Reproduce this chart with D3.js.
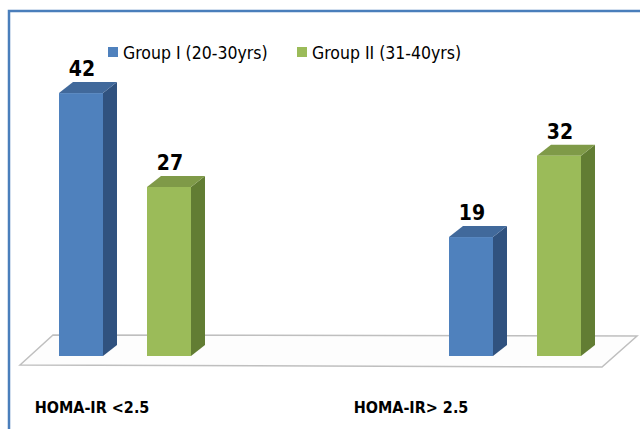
<!DOCTYPE html>
<html>
<head>
<meta charset="utf-8">
<script src="https://cdn.jsdelivr.net/npm/d3@7"></script>
<style>
  body { margin: 0; background: #fff; }
  text { font-family: "DejaVu Sans Condensed", "Liberation Sans Narrow", Arial, sans-serif; fill: #000; }
</style>
</head>
<body>
<script>
// chart data
var categories = ['HOMA-IR <2.5', 'HOMA-IR> 2.5'];
var series = ['Group I (20-30yrs)', 'Group II (31-40yrs)'];
var groupI = [42, 19];
var groupII = [27, 32];

window.onload = function () {
    var w = 640,
        h = 429;

    var colors = {
        front: ['#4f81bd', '#9bbb59'],
        side: ['#30527f', '#627d33'],
        top: ['#41699b', '#7f9a48']
    };

    var values = [groupI, groupII];
    var table = categories.map(function (c, i) {
        return { category: c, bars: series.map(function (s, j) { return { series: s, j: j, value: values[j][i] }; }) };
    });

    var svg = d3.select('body')
        .append('svg')
        .attr('width', w)
        .attr('height', h);

    // blue frame
    svg.append('path')
        .attr('d', 'M9,430 L9,11 L641,11')
        .attr('fill', 'none')
        .attr('stroke', '#4a7ebb')
        .attr('stroke-width', 2.5);

    var x0 = d3.scaleBand()
        .domain(categories)
        .range([-70, 710]);

    var x1 = d3.scaleBand()
        .domain(series)
        .range([-88, 88])
        .paddingInner(0.5)
        .paddingOuter(0.25);

    var y = d3.scaleLinear()
        .domain([0, 50])
        .range([356, 43]);

    var labelX = d3.scalePoint()
        .domain(categories)
        .range([92, 411]);

    var dx = 14, dy = 11;

    // floor
    svg.append('path')
        .attr('d', 'M20,365 L53,335 L637,336 L602,367 Z')
        .attr('fill', '#fdfdfd')
        .attr('stroke', '#bfbfbf')
        .attr('stroke-width', 1.5);

    var groups = svg.selectAll('.group')
        .data(table)
        .enter()
        .append('g')
        .attr('class', 'group')
        .attr('transform', function (d) {
            return 'translate(' + (x0(d.category) + x0.bandwidth() / 2) + ',0)';
        });

    var bars = groups.selectAll('.bar')
        .data(function (d) { return d.bars; })
        .enter()
        .append('g')
        .attr('class', 'bar');

    var bw = x1.bandwidth();

    // side face
    bars.append('path')
        .attr('d', function (d) {
            var xa = x1(d.series) + bw, t = y(d.value), b = y(0);
            return 'M' + xa + ',' + t + ' L' + (xa + dx) + ',' + (t - dy) +
                ' L' + (xa + dx) + ',' + (b - dy) + ' L' + xa + ',' + b + ' Z';
        })
        .style('fill', function (d) { return colors.side[d.j]; });

    // top face
    bars.append('path')
        .attr('d', function (d) {
            var xa = x1(d.series), t = y(d.value);
            return 'M' + xa + ',' + t + ' L' + (xa + dx) + ',' + (t - dy) +
                ' L' + (xa + bw + dx) + ',' + (t - dy) + ' L' + (xa + bw) + ',' + t + ' Z';
        })
        .style('fill', function (d) { return colors.top[d.j]; });

    // front face
    bars.append('rect')
        .attr('x', function (d) { return x1(d.series); })
        .attr('y', function (d) { return y(d.value); })
        .attr('width', bw)
        .attr('height', function (d) { return y(0) - y(d.value); })
        .style('fill', function (d) { return colors.front[d.j]; });

    // value labels
    bars.append('text')
        .attr('text-anchor', 'middle')
        .attr('x', function (d) { return x1(d.series) + bw / 2 + 1; })
        .attr('y', function (d) { return y(d.value) - 17; })
        .style('font-size', '21px')
        .style('font-weight', 'bold')
        .text(function (d) { return d.value; });

    // category labels
    svg.selectAll('.cat')
        .data(categories)
        .enter()
        .append('text')
        .attr('class', 'cat')
        .attr('text-anchor', 'middle')
        .attr('x', function (d) { return labelX(d); })
        .attr('y', 413)
        .style('font-size', '16px')
        .style('font-weight', 'bold')
        .text(function (d) { return d; });

    // legend
    var legendX = d3.scalePoint()
        .domain(series)
        .range([108, 297]);

    var legend = svg.selectAll('.legend')
        .data(series)
        .enter()
        .append('g')
        .attr('class', 'legend')
        .attr('transform', function (d) { return 'translate(' + legendX(d) + ',47)'; });

    legend.append('rect')
        .attr('width', 10)
        .attr('height', 10)
        .style('fill', function (d, i) { return colors.front[i]; });

    legend.append('text')
        .attr('x', 15)
        .attr('y', 12)
        .style('font-size', '17.5px')
        .text(function (d) { return d; });
};
</script>
</body>
</html>
